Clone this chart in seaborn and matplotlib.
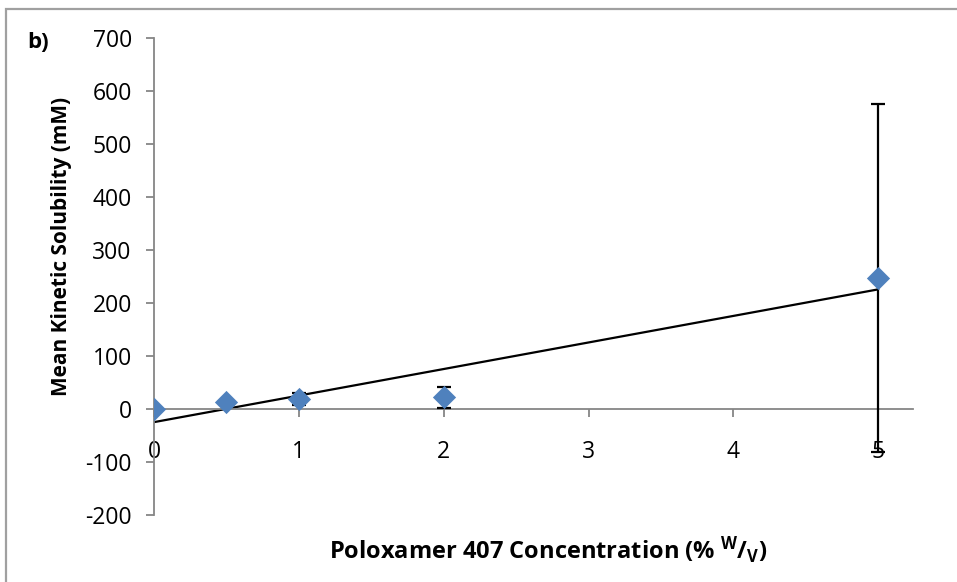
import numpy as np
import pandas as pd
import seaborn as sns
import matplotlib.pyplot as plt
from matplotlib.patches import Rectangle

# Poloxamer 407 concentration (% w/v) and mean kinetic solubility (mM)
conc = [0, 0.5, 1, 2, 5]
solubility = [0, 14, 19, 22, 247]
sd = [0, 2, 12, 20, 329]
x_ticks = [0, 1, 2, 3, 4, 5]
y_ticks = [-200, -100, 0, 100, 200, 300, 400, 500, 600, 700]

df = pd.DataFrame({"conc": conc, "sol": solubility, "sd": sd})

sns.set_style("white")
plt.rcParams["font.family"] = ["Open Sans", "DejaVu Sans"]
plt.rcParams["axes.unicode_minus"] = False
plt.rcParams["mathtext.fontset"] = "custom"
plt.rcParams["mathtext.rm"] = "Open Sans"
plt.rcParams["mathtext.bf"] = "Open Sans:bold"
plt.rcParams["text.color"] = "black"
plt.rcParams["xtick.labelcolor"] = "black"
plt.rcParams["ytick.labelcolor"] = "black"

fig = plt.figure(figsize=(9.57, 5.82), dpi=100)
ax = fig.add_axes([154 / 957, 1 - 515 / 582, (913 - 154) / 957, (515 - 38) / 582])

grey = "#868686"

# linear trendline (least squares, as Excel does)
slope, intercept = np.polyfit(df["conc"], df["sol"], 1)
xs = np.array([0, 5])
ax.plot(xs, slope * xs + intercept, color="black", lw=1.6, zorder=2)

ax.errorbar(df["conc"], df["sol"], yerr=df["sd"], fmt="none", ecolor="black",
            elinewidth=1.6, capsize=5, capthick=1.6, zorder=3)
sns.scatterplot(data=df, x="conc", y="sol", marker="D", s=140, color="#4F81BD",
                edgecolor="#4F81BD", linewidth=0, ax=ax, zorder=4)

ax.set_xlim(0, 5.24)
ax.set_ylim(-200, 700)
ax.set_xticks(x_ticks)
ax.set_yticks(y_ticks)
ax.set_xlabel("")
ax.set_ylabel("")

for s in ["top", "right"]:
    ax.spines[s].set_visible(False)
ax.spines["bottom"].set_position(("data", 0))
ax.spines["bottom"].set_color(grey)
ax.spines["left"].set_color(grey)
ax.spines["bottom"].set_linewidth(1.3)
ax.spines["left"].set_linewidth(1.3)

ax.tick_params(axis="x", direction="out", length=6, width=1.3, color=grey,
               labelsize=16.5, pad=16, bottom=True)
ax.tick_params(axis="y", direction="out", length=6, width=1.3, color=grey,
               labelsize=16.5, pad=10, left=True)

fig.text(62 / 957, 1 - 246 / 582, "Mean Kinetic Solubility (mM)", rotation=90,
         ha="center", va="center", fontsize=15, fontweight="bold")
fig.text(548 / 957, 1 - 550 / 582,
         r"Poloxamer 407 Concentration (% $\mathbf{^{W}/_{V}}$)",
         ha="center", va="center", fontsize=17, fontweight="bold")
fig.text(38 / 957, 1 - 42 / 582, "b)", ha="center", va="center",
         fontsize=16, fontweight="bold")

# chart border
fig.patches.append(Rectangle((6 / 957, -0.05), 1.1, 1 - 9 / 582 + 0.05,
                             transform=fig.transFigure, fill=False,
                             edgecolor="#a0a0a0", lw=1.6))

fig.savefig("out.png", dpi=100)
